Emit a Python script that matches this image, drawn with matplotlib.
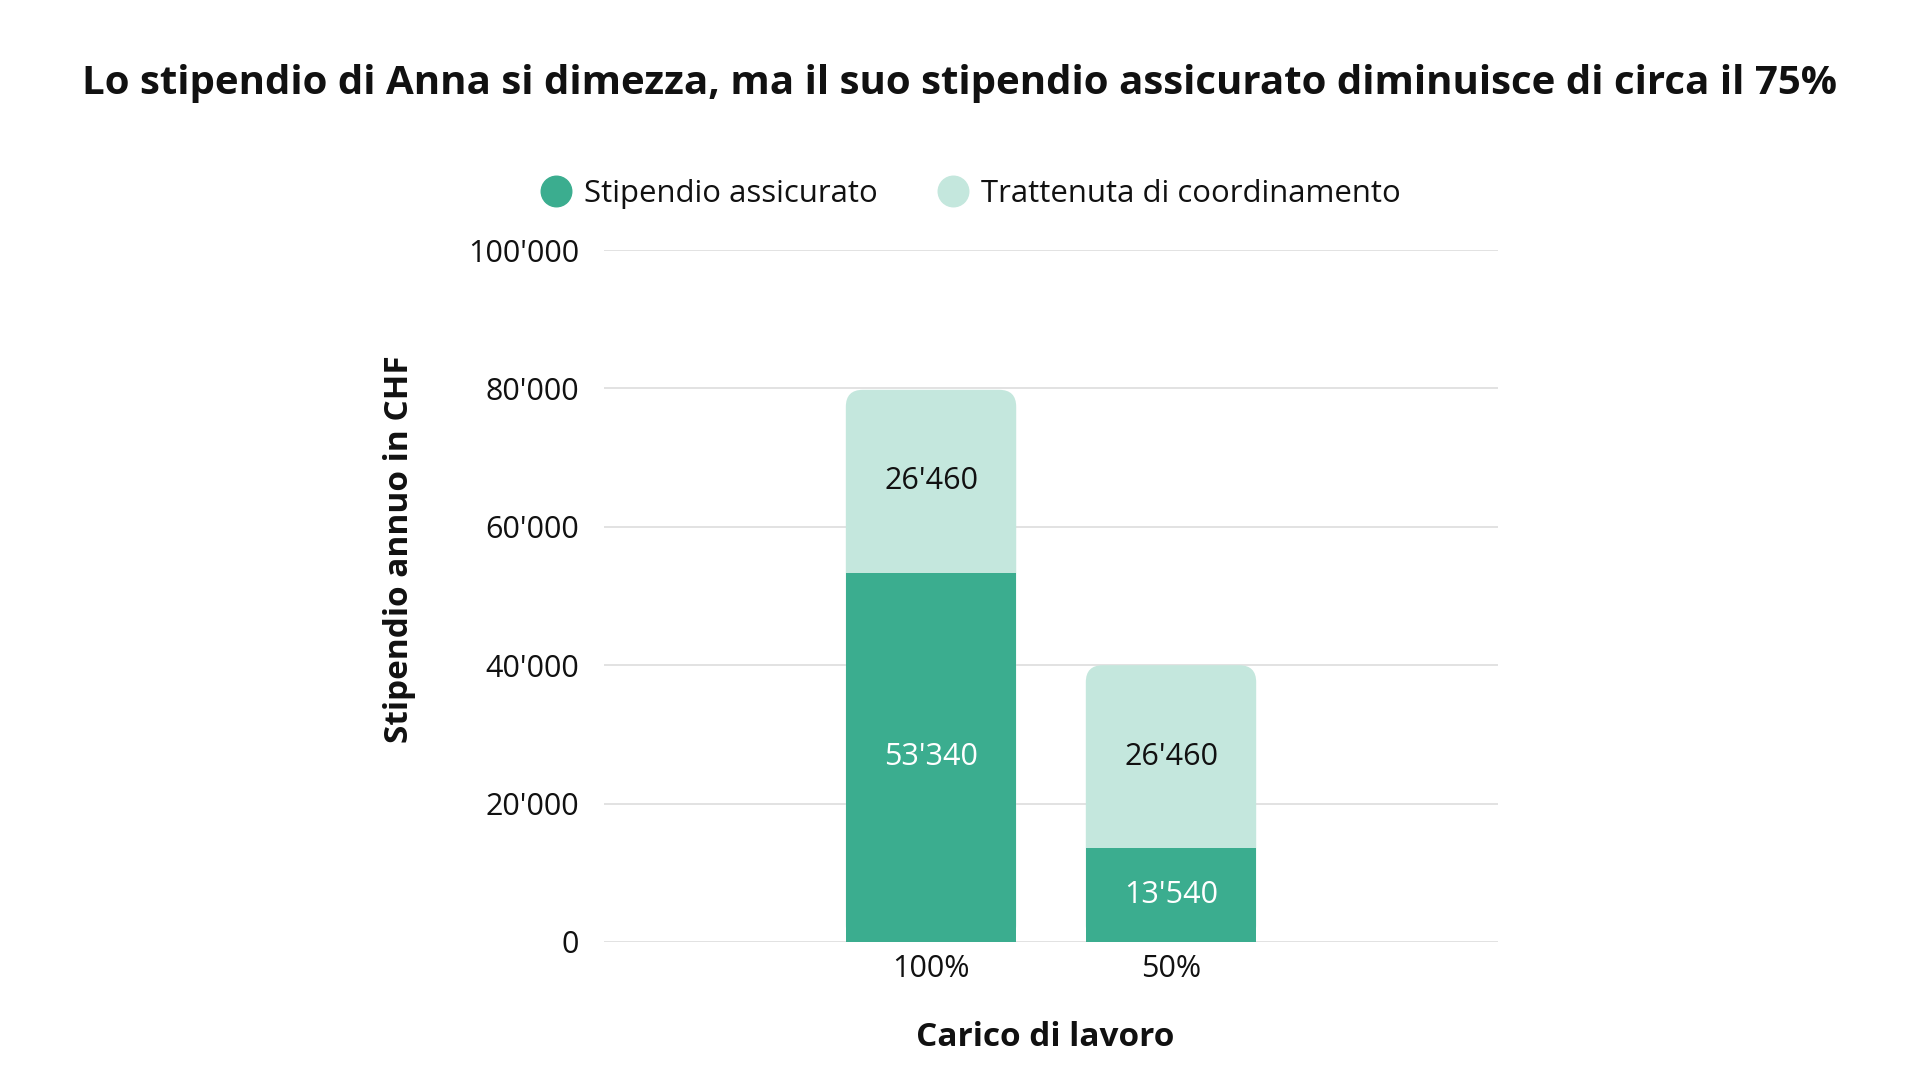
import matplotlib.pyplot as plt
from matplotlib.patches import FancyBboxPatch
from matplotlib.lines import Line2D

# data
categories = ["100%", "50%"]
assicurato = [53340, 13540]
trattenuta = [26460, 26460]
yticks = [0, 20000, 40000, 60000, 80000, 100000]

dark = "#3bad8f"
light = "#c4e7dd"
txt = "#111111"

plt.rcParams['font.family'] = ['Open Sans', 'DejaVu Sans']


def fmt(v):
    return f"{v:,}".replace(",", "'")


fig = plt.figure(figsize=(19.2, 10.8), dpi=100)
ax = fig.add_axes([0.3146, 0.1278, 0.4656, 0.6407])

x = list(range(len(categories)))
w = 0.71
xmin, xmax = -1.3625, 2.3625
ymax = 100000

b_dark = ax.bar(x, assicurato, width=w, color=dark, zorder=3)
b_light = ax.bar(x, trattenuta, width=w, bottom=assicurato, color=light, zorder=2)

# rounded top corners: light box from 0 to total, dark bar drawn over it
ax_w_px, ax_h_px = 894, 692
xu = (xmax - xmin) / ax_w_px
yu = ymax / ax_h_px
r_px = 17
for p in b_light:
    p.set_visible(False)
    top = p.get_y() + p.get_height()
    box = FancyBboxPatch((p.get_x(), 0), p.get_width(), top,
                         boxstyle=f"round,pad=0,rounding_size={r_px * xu}",
                         mutation_aspect=yu / xu,
                         facecolor=light, edgecolor='none', zorder=2)
    ax.add_patch(box)

ax.bar_label(b_dark, labels=[fmt(v) for v in assicurato], label_type='center',
             color='white', fontsize=22)
ax.bar_label(b_light, labels=[fmt(v) for v in trattenuta], label_type='center',
             color=txt, fontsize=22)

ax.set_xlim(xmin, xmax)
ax.set_ylim(0, ymax)
ax.set_xticks(x)
ax.set_xticklabels(categories, fontsize=22, color=txt)
ax.set_yticks(yticks)
ax.set_yticklabels([fmt(v) for v in yticks], fontsize=22, color=txt)
ax.tick_params(axis='both', length=0)
ax.tick_params(axis='y', pad=18)
ax.tick_params(axis='x', pad=9)
ax.grid(axis='y', color='#dddddd', linewidth=1.2)
ax.set_axisbelow(True)
for s in ax.spines.values():
    s.set_visible(False)

fig.text(400 / 1920, 1 - 549 / 1080, "Stipendio annuo in CHF", rotation=90,
         ha='center', va='center', fontsize=24, fontweight='bold', color=txt)
fig.text(1045 / 1920, 1 - 1037 / 1080, "Carico di lavoro",
         ha='center', va='center', fontsize=24, fontweight='bold', color=txt)

fig.text(0.5, 1 - 84 / 1080,
         "Lo stipendio di Anna si dimezza, ma il suo stipendio assicurato diminuisce di circa il 75%",
         ha='center', va='center', fontsize=29, fontweight='bold', color=txt)

handles = [Line2D([], [], marker='o', linestyle='', markersize=22, color=dark),
           Line2D([], [], marker='o', linestyle='', markersize=22, color=light)]
fig.legend(handles, ["Stipendio assicurato", "Trattenuta di coordinamento"],
           loc='center', bbox_to_anchor=(0.5055, 1 - 194 / 1080), ncol=2,
           frameon=False, fontsize=22.4, handlelength=1.0, handletextpad=0.4,
           columnspacing=1.9, labelcolor=txt)

fig.savefig("out.png", dpi=100, facecolor='white')
